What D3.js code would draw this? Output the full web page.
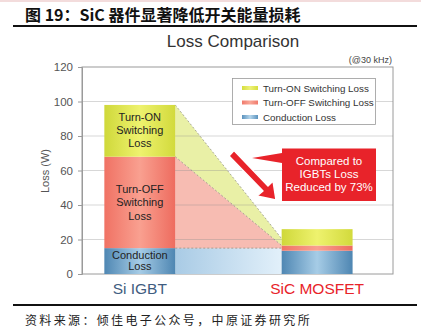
<!DOCTYPE html>
<html><head><meta charset="utf-8">
<script src="https://cdn.jsdelivr.net/npm/d3@7"></script>
<style>
html,body{margin:0;padding:0;background:#fff;}
svg{display:block;}
</style></head>
<body>
<svg id="c" width="421" height="331"></svg>
<script>
// ---- data ----
const categories = ["Si IGBT", "SiC MOSFET"];
const conduction = [15, 13.5];
const turnOff = [53, 3];
const turnOn = [30, 9.5];
const yTicks = [0, 20, 40, 60, 80, 100, 120];
const seriesNames = ["Turn-ON Switching Loss", "Turn-OFF Switching Loss", "Conduction Loss"];
const fadeTopEnd = 20.5; // where the turn-ON shading ends at the SiC bar
const titleText = "图 19：SiC 器件显著降低开关能量损耗";
const chartTitle = "Loss Comparison";
const freqNote = "(@30 kHz)";
const sourceText = "资料来源：倾佳电子公众号，中原证券研究所";
const calloutLines = ["Compared to", "IGBTs Loss", "Reduced by 73%"];

(function(){
const svg = d3.select("#c");
const W = 421, H = 331;
const pL = 82, pR = 393, pT = 67, pB = 274;
const SANS = "'Liberation Sans', Arial, sans-serif";

// header
svg.append("rect").attr("x",0).attr("y",0).attr("width",W).attr("height",2).attr("fill","#f3dcdc");
svg.append("text").attr("x",25).attr("y",21).text(titleText)
  .attr("font-family","'Noto Sans CJK SC', sans-serif").attr("font-weight","bold")
  .attr("font-size",16).attr("fill","#111");
svg.append("rect").attr("x",13).attr("y",25).attr("width",404).attr("height",2).attr("fill","#111");
svg.append("rect").attr("x",13).attr("y",304).attr("width",404).attr("height",2).attr("fill","#111");
svg.append("text").attr("x",25).attr("y",324.5).text(sourceText)
  .attr("font-family","'Noto Sans CJK SC', sans-serif").attr("font-size",12)
  .attr("letter-spacing",2.35).attr("fill","#222");

svg.append("text").attr("x",233).attr("y",47).attr("text-anchor","middle").text(chartTitle)
  .attr("font-family",SANS).attr("font-size",17).attr("fill","#333");
svg.append("text").attr("x",392).attr("y",63).attr("text-anchor","end").text(freqNote)
  .attr("font-family",SANS).attr("font-size",9).attr("fill","#444");

// scales
const y = d3.scaleLinear().domain([0,120]).range([pB, pT]);
const x = d3.scaleBand().domain(categories).range([pL, pR])
  .paddingInner(0.6).paddingOuter(0.177).align(0.356);

// gradients
const defs = svg.append("defs");
function hGrad(id, stops){
  const g = defs.append("linearGradient").attr("id",id).attr("x1","0").attr("x2","1").attr("y1","0").attr("y2","0");
  stops.forEach(s=>g.append("stop").attr("offset",s[0]).attr("stop-color",s[1]));
}
hGrad("gOn",[[0,"#cfd83a"],[0.5,"#eef26e"],[1,"#d2da3c"]]);
hGrad("gOff",[[0,"#f07264"],[0.5,"#f9a090"],[1,"#ee6c5f"]]);
hGrad("gCond",[[0,"#4f87b3"],[0.5,"#a6cce6"],[1,"#4e86b2"]]);
hGrad("gFadeBlue",[[0,"#a9cbe5"],[1,"#e2f0fa"]]);
hGrad("gLegOn",[[0,"#d6de3e"],[0.5,"#eef27a"],[1,"#d6de3e"]]);
hGrad("gLegOff",[[0,"#f07a6c"],[0.5,"#f9a898"],[1,"#f07a6c"]]);
hGrad("gLegCond",[[0,"#5b92bd"],[0.5,"#b5d6ec"],[1,"#5b92bd"]]);

// frame
svg.append("rect").attr("x",pL).attr("y",pT).attr("width",pR-pL).attr("height",pB-pT)
  .attr("fill","#fff").attr("stroke","#9a9a9a").attr("stroke-width",1);

// stack tops
const cTop = conduction;
const oTop = conduction.map((v,i)=>v+turnOff[i]);
const nTop = oTop.map((v,i)=>v+turnOn[i]);

const x0 = x(categories[0]) + x.bandwidth();
const x1 = x(categories[1]);

// fading connectors
svg.append("rect").attr("x",x0).attr("y",y(cTop[0])).attr("width",x1-x0).attr("height",y(0)-y(cTop[0]))
  .attr("fill","url(#gFadeBlue)");
svg.append("path").attr("d",d3.line()([[x0,y(nTop[0])],[x1,y(fadeTopEnd)],[x1,y(oTop[1])],[x0,y(oTop[0])]]))
  .attr("fill","#e9f0a6");
svg.append("path").attr("d",d3.line()([[x0,y(oTop[0])],[x1,y(oTop[1])],[x1,y(cTop[0])],[x0,y(cTop[0])]]))
  .attr("fill","#f7bcb2");
// dashed edges
[[[x0,y(nTop[0])],[x1,y(fadeTopEnd)]],[[x0,y(oTop[0])],[x1,y(oTop[1])]],[[x0,y(cTop[0])],[x1,y(cTop[0])]]]
  .forEach(seg=>svg.append("path").attr("d",d3.line()(seg)).attr("fill","none")
    .attr("stroke","#8a8a7a").attr("stroke-width",0.7).attr("stroke-dasharray","2,2"));

// grid
svg.append("g").selectAll("line").data(yTicks.filter(t=>t>0 && t<120)).join("line")
  .attr("x1",pL).attr("x2",pR).attr("y1",d=>y(d)).attr("y2",d=>y(d))
  .attr("stroke","#8f8f8f").attr("stroke-opacity",0.45).attr("stroke-width",0.8);

// bars
const segs = [];
categories.forEach((c,i)=>{
  segs.push({c, y0:0, y1:cTop[i], f:"url(#gCond)"});
  segs.push({c, y0:cTop[i], y1:oTop[i], f:"url(#gOff)"});
  segs.push({c, y0:oTop[i], y1:nTop[i], f:"url(#gOn)"});
});
svg.append("g").selectAll("rect").data(segs).join("rect")
  .attr("x",d=>x(d.c)).attr("width",x.bandwidth())
  .attr("y",d=>y(d.y1)).attr("height",d=>y(d.y0)-y(d.y1)).attr("fill",d=>d.f);

// bar labels (Si IGBT)
const cx = x(categories[0]) + x.bandwidth()/2;
function multiline(lines, centerVal, lh){
  const cy = y(centerVal);
  lines.forEach((t,k)=>{
    svg.append("text").attr("x",cx).attr("y",cy + (k-(lines.length-1)/2)*lh + 4)
      .attr("text-anchor","middle").text(t)
      .attr("font-family",SANS).attr("font-size",11).attr("fill","#222");
  });
}
multiline(["Turn-ON","Switching","Loss"], (oTop[0]+nTop[0])/2 + 0.3, 13);
multiline(["Turn-OFF","Switching","Loss"], (cTop[0]+oTop[0])/2, 13.5);
multiline(["Conduction","Loss"], cTop[0]/2 + 0.3, 11);

// y axis
const yAxis = d3.axisLeft(y).tickValues(yTicks).tickSize(4).tickPadding(5);
const ga = svg.append("g").attr("transform",`translate(${pL},0)`).call(yAxis);
ga.select(".domain").attr("stroke","#9a9a9a");
ga.selectAll(".tick line").attr("stroke","#9a9a9a");
ga.selectAll("text").attr("font-family",SANS).attr("font-size",11.5).attr("fill","#555");
svg.append("text").attr("transform","translate(49,171) rotate(-90)").attr("text-anchor","middle")
  .text("Loss (W)").attr("font-family",SANS).attr("font-size",11).attr("fill","#555");

// x labels
const xColors = ["#3f5d80","#e8232a"];
svg.append("g").selectAll("text").data(categories).join("text")
  .attr("x",d=>x(d)+x.bandwidth()/2).attr("y",293.5).attr("text-anchor","middle").text(d=>d)
  .attr("font-family",SANS).attr("font-size",15.5)
  .attr("fill",(d,i)=>xColors[i]);

// legend
const lg = svg.append("g");
lg.append("rect").attr("x",232.5).attr("y",78.5).attr("width",143).attr("height",46)
  .attr("fill","#fff").attr("stroke","#9a9a9a").attr("stroke-width",0.8);
const legFills = ["url(#gLegOn)","url(#gLegOff)","url(#gLegCond)"];
seriesNames.forEach((n,k)=>{
  const yy = 88 + k*14.5;
  lg.append("rect").attr("x",242).attr("y",yy-2).attr("width",16).attr("height",4).attr("fill",legFills[k]);
  lg.append("text").attr("x",263).attr("y",yy+3.5).text(n)
    .attr("font-family",SANS).attr("font-size",9.8).attr("fill","#333");
});

// arrow
const arrow = "M229,156 L234,150.5 L268,186 L273,181 L276,200 L257,196 L263,191 Z";
svg.append("path").attr("d",arrow).attr("fill","#e8232a").attr("stroke","#fff").attr("stroke-width",1.5).attr("stroke-linejoin","round");

// callout
svg.append("path").attr("d","M282,148.5 L376,148.5 L376,201 L282,201 L282,163 L252,158 L282,153 Z").attr("fill","#e8232a");
calloutLines.forEach((t,k)=>{
  svg.append("text").attr("x",329).attr("y",164.5 + k*13).attr("text-anchor","middle").text(t)
    .attr("font-family",SANS).attr("font-size",11.5).attr("fill","#fff");
});
})();
</script>
</body></html>
